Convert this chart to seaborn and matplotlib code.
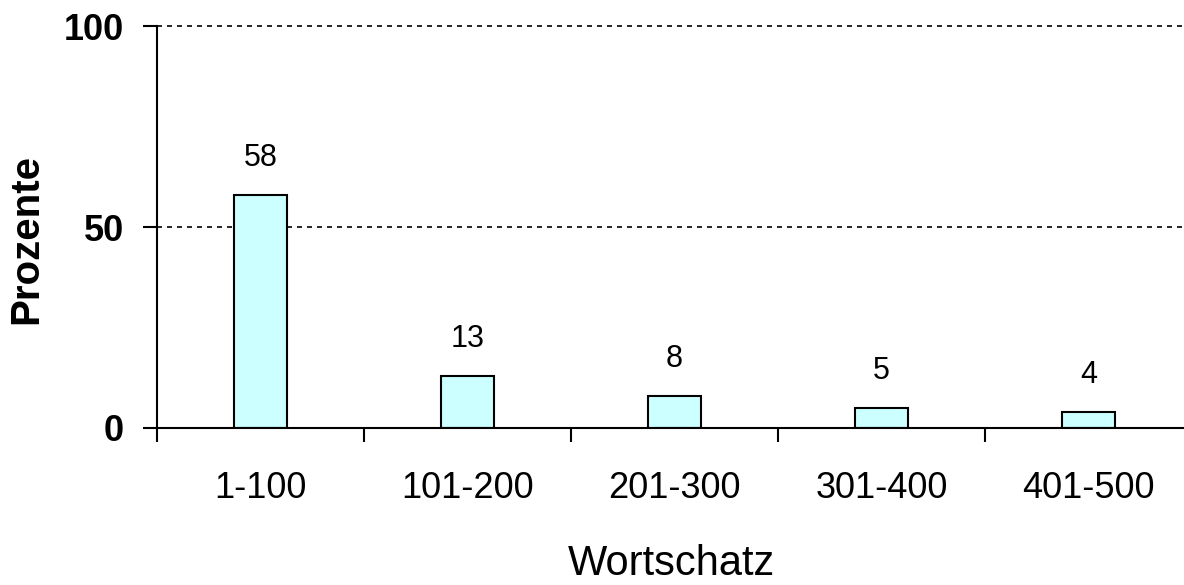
import matplotlib
matplotlib.use("Agg")
import matplotlib.pyplot as plt
import seaborn as sns
import pandas as pd
import numpy as np

# data
categories = ["1-100", "101-200", "201-300", "301-400", "401-500"]
percentages = [58, 13, 8, 5, 4]
y_ticks = [0, 50, 100]

sns.set_theme(style="white")
plt.rcParams['font.family'] = ['Liberation Sans', 'DejaVu Sans']
narrow = ['Liberation Sans Narrow', 'Liberation Sans', 'DejaVu Sans']

df = pd.DataFrame({'Wortschatz': categories, 'Prozente': percentages})

fig = plt.figure(figsize=(11.84, 5.85), dpi=100)
ax = fig.add_axes([0.1326, 0.2684, 0.8742, 0.687])

sns.barplot(data=df, x='Wortschatz', y='Prozente', color='#CCFFFF',
            edgecolor='black', linewidth=1.5, width=0.256, saturation=1, ax=ax)

ax.set_xlim(-0.5, len(categories) - 0.5)
ax.set_ylim(0, 100)

# dotted grid lines at 50 and 100
for v in y_ticks[1:]:
    ax.axhline(v, color='black', linewidth=1.2, linestyle=(0, (3, 3)),
               zorder=0, clip_on=False)

ax.bar_label(ax.containers[0], fmt='%d', padding=16, fontsize=22, color='black')

# y axis
ax.set_yticks(y_ticks)
ax.set_yticklabels([str(t) for t in y_ticks], fontsize=26, fontweight='bold',
                   family=narrow)
ax.tick_params(axis='y', direction='out', length=10, width=1.5, pad=14,
               left=True, colors='black')

# x axis: tick marks between categories, labels centred
ax.set_xticks(range(len(categories)))
ax.set_xticklabels(categories, fontsize=26, family=narrow)
ax.set_xticks(np.arange(-0.5, len(categories), 1.0), minor=True)
ax.tick_params(axis='x', which='major', length=0, pad=31, colors='black')
ax.tick_params(axis='x', which='minor', direction='out', length=10, width=1.5,
               bottom=True, colors='black')

for side in ['top', 'right']:
    ax.spines[side].set_visible(False)
for side in ['left', 'bottom']:
    ax.spines[side].set_color('black')
    ax.spines[side].set_linewidth(1.5)

ax.set_ylabel('Prozente', fontsize=29, fontweight='bold', color='black')
ax.yaxis.set_label_coords(-0.108, 0.47)
ax.set_xlabel('Wortschatz', fontsize=30, color='black')
ax.xaxis.set_label_coords(0.497, -0.338)
ax.xaxis.label.set_va('center')

fig.savefig('out.png', dpi=100, facecolor='white')
